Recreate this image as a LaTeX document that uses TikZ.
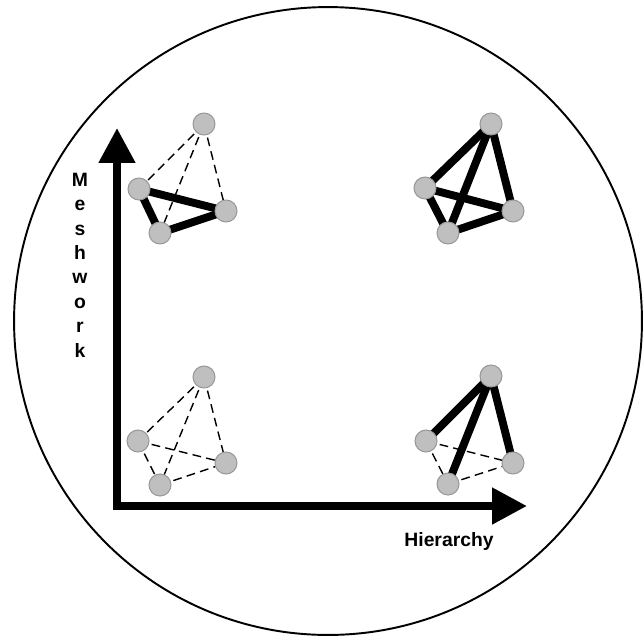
\documentclass[tikz,border=0pt]{standalone}
\usepackage{fontspec}
\setmainfont{Liberation Sans}
\usetikzlibrary{arrows.meta,backgrounds}
\begin{document}
\begin{tikzpicture}[
    x=0.02cm, y=-0.02cm,
    font=\fontsize{11}{13.9}\selectfont\bfseries,
    vertex/.style={
        circle,
        draw=black!40,
        fill=black!25,
        line width=0.6pt,
        minimum size=0.44cm,
        inner sep=0pt
    },
    strong/.style={line width=4.5pt},
    weak/.style={line width=0.8pt, dash pattern=on 5pt off 3pt},
    axis/.style={line width=4.5pt, -{Triangle[length=0.7cm, width=0.7cm]}}
]
\useasboundingbox (0,0) rectangle (644,636);

% outer circle
\node[draw, circle, line width=1.1pt, minimum size=12.56cm, inner sep=0pt] (frame) at (328,321) {};

% axes
\coordinate (origin) at (117,510);
\coordinate (ytip) at (117,128);
\coordinate (xstart) at (113,506);
\coordinate (xtip) at (527,506);
\draw[axis] (origin) -- (ytip);
\draw[axis] (xstart) -- (xtip);

\node[align=center, inner sep=0pt] (meshlabel) at (80,265) {M\\e\\s\\h\\w\\o\\r\\k};
\node[inner sep=0pt] (hierlabel) at (449,541) {Hierarchy};

% upper left: meshwork only
\node[vertex] (nw-top) at (204,124) {};
\node[vertex] (nw-left) at (139,189) {};
\node[vertex] (nw-right) at (226,211) {};
\node[vertex] (nw-bot) at (160,233) {};

% upper right: both
\node[vertex] (ne-top) at (491,124) {};
\node[vertex] (ne-left) at (425,188) {};
\node[vertex] (ne-right) at (513,211) {};
\node[vertex] (ne-bot) at (448,233) {};

% lower left: neither
\node[vertex] (sw-top) at (204,377) {};
\node[vertex] (sw-left) at (138,441) {};
\node[vertex] (sw-right) at (226,463) {};
\node[vertex] (sw-bot) at (160,485) {};

% lower right: hierarchy only
\node[vertex] (se-top) at (491,376) {};
\node[vertex] (se-left) at (426,441) {};
\node[vertex] (se-right) at (513,463) {};
\node[vertex] (se-bot) at (448,484) {};

\begin{scope}[on background layer]
\draw[weak] (nw-top.center) -- (nw-left.center);
\draw[weak] (nw-top.center) -- (nw-bot.center);
\draw[weak] (nw-top.center) -- (nw-right.center);
\draw[strong] (nw-left.center) -- (nw-right.center);
\draw[strong] (nw-left.center) -- (nw-bot.center);
\draw[strong] (nw-bot.center) -- (nw-right.center);

\draw[strong] (ne-top.center) -- (ne-left.center);
\draw[strong] (ne-top.center) -- (ne-bot.center);
\draw[strong] (ne-top.center) -- (ne-right.center);
\draw[strong] (ne-left.center) -- (ne-right.center);
\draw[strong] (ne-left.center) -- (ne-bot.center);
\draw[strong] (ne-bot.center) -- (ne-right.center);

\draw[weak] (sw-top.center) -- (sw-left.center);
\draw[weak] (sw-top.center) -- (sw-bot.center);
\draw[weak] (sw-top.center) -- (sw-right.center);
\draw[weak] (sw-left.center) -- (sw-right.center);
\draw[weak] (sw-left.center) -- (sw-bot.center);
\draw[weak] (sw-bot.center) -- (sw-right.center);

\draw[strong] (se-top.center) -- (se-left.center);
\draw[strong] (se-top.center) -- (se-bot.center);
\draw[strong] (se-top.center) -- (se-right.center);
\draw[weak] (se-left.center) -- (se-right.center);
\draw[weak] (se-left.center) -- (se-bot.center);
\draw[weak] (se-bot.center) -- (se-right.center);
\end{scope}
\end{tikzpicture}
\end{document}
